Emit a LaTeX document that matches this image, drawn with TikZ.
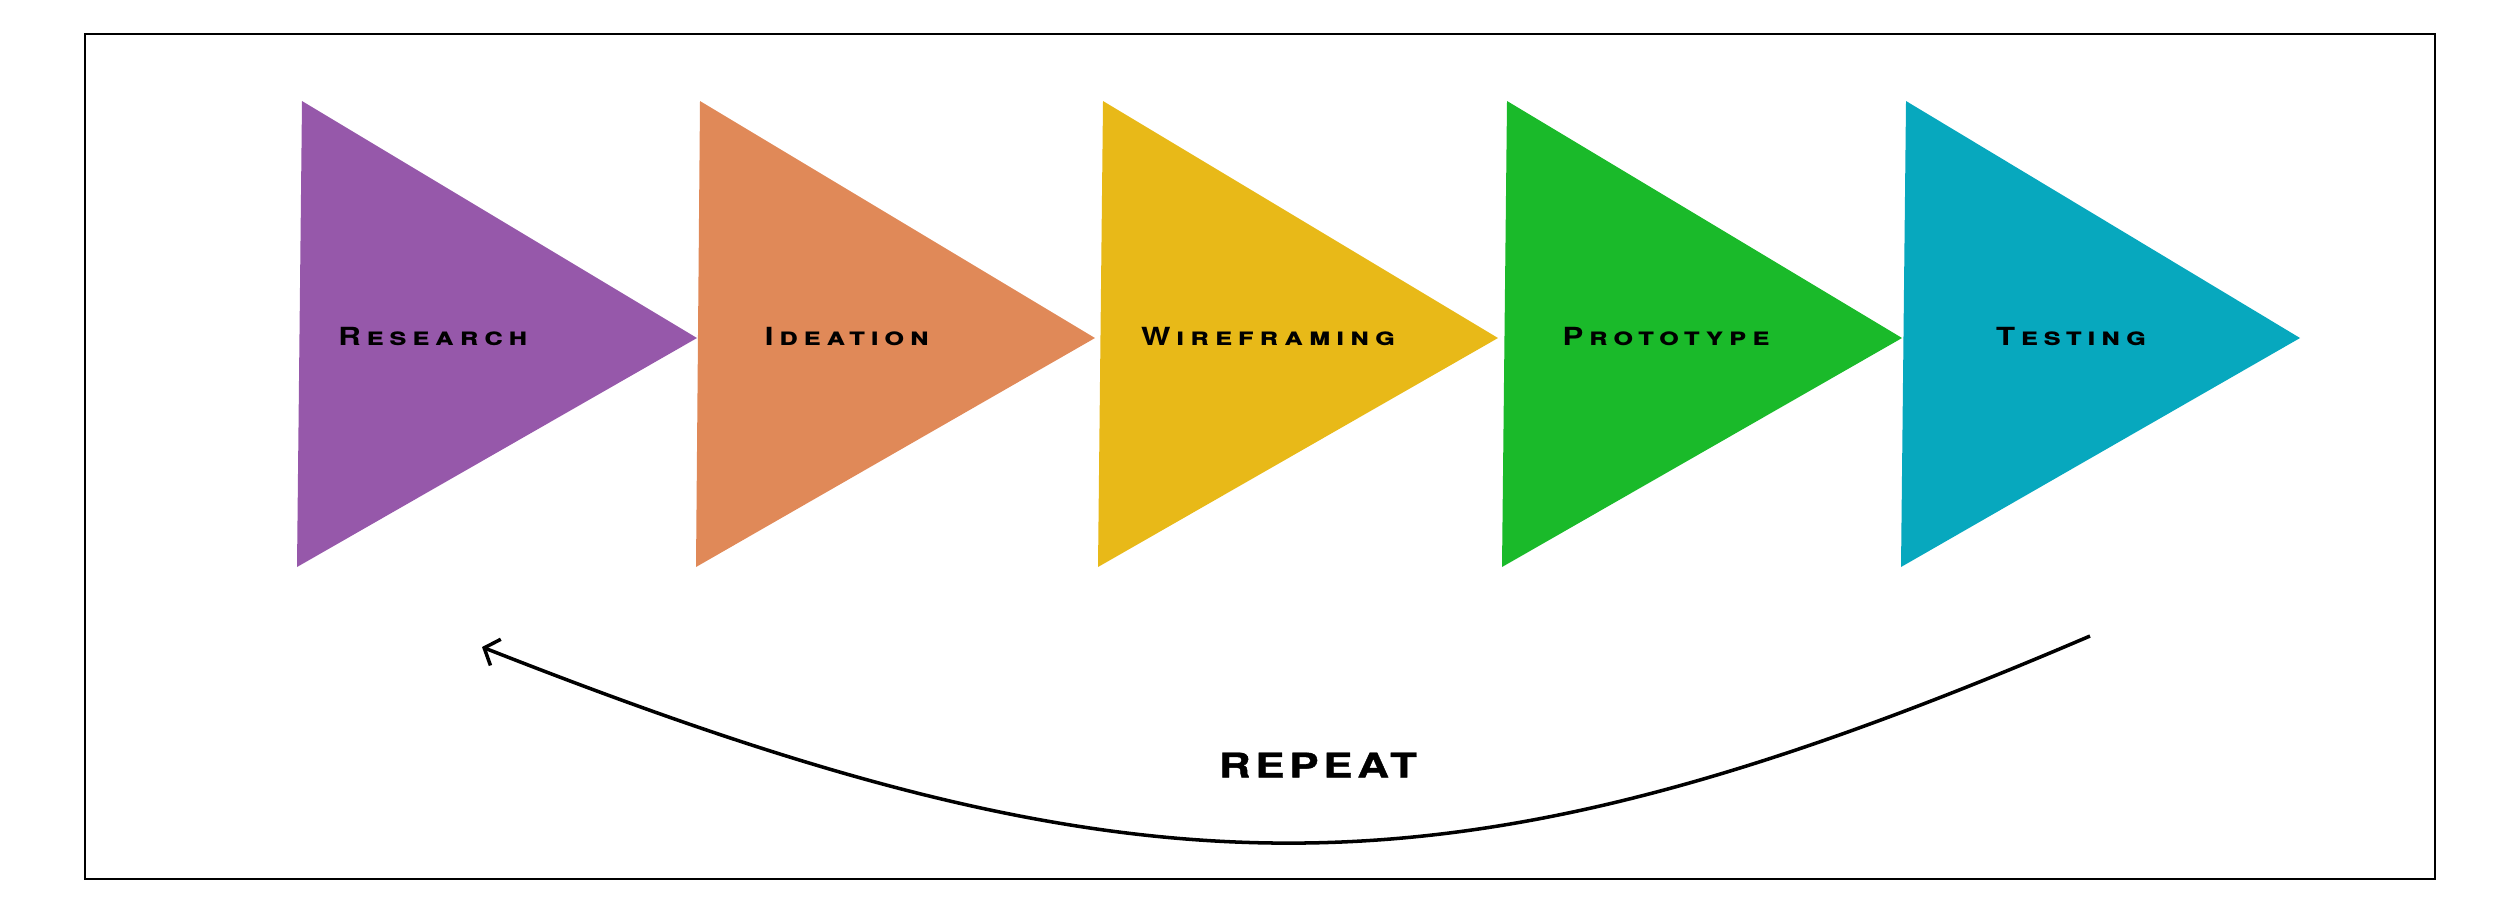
\documentclass[tikz,border=0pt]{standalone}
\usepackage{fontspec}
\setmainfont{TeX Gyre Heros}
\newfontfamily\stagefont[LetterSpace=22, FakeStretch=1.25]{TeX Gyre Heros}
\newfontfamily\repeatfont[LetterSpace=14, FakeStretch=1.3, BoldFeatures={FakeBold=1.2}]{TeX Gyre Heros}
\usetikzlibrary{arrows.meta}
\definecolor{researchc}{RGB}{150,88,170}
\definecolor{ideationc}{RGB}{224,137,88}
\definecolor{wirec}{RGB}{232,185,24}
\definecolor{protoc}{RGB}{26,186,42}
\definecolor{testc}{RGB}{7,168,190}
\tikzset{
  stagelabel/.style={inner sep=0pt, font=\stagefont\fontsize{7.1}{8}\selectfont\bfseries\scshape},
  looplabel/.style={inner sep=0pt, font=\repeatfont\fontsize{9.6}{11}\selectfont\bfseries},
}
\begin{document}
\begin{tikzpicture}[x=0.01cm, y=-0.01cm]
	\useasboundingbox (0,0) rectangle (2500,902);
	% 1. outer frame
	\draw[line width=0.6pt] (85,34) rectangle (2435,879);
	
	% 2. stage triangles
	\fill[researchc] (302,101) -- (697,338) -- (297,567) -- cycle; % Research
	\fill[ideationc] (700,101) -- (1095,338) -- (696,567) -- cycle; % Ideation
	\fill[wirec] (1103,101) -- (1498,338) -- (1098,567) -- cycle; % Wireframing
	\fill[protoc] (1507,101) -- (1902,338) -- (1502,567) -- cycle; % Prototype
	\fill[testc] (1906,101) -- (2300,338) -- (1901,567) -- cycle; % Testing
	
	% 3. stage labels
	\node[stagelabel] (research) at (433,336) {Research};
	\node[stagelabel] (ideation) at (847,336) {Ideation};
	\node[stagelabel] (wireframing) at (1268,336) {Wireframing};
	\node[stagelabel] (prototype) at (1666,336) {Prototype};
	\node[stagelabel] (testing) at (2071,336) {Testing};
	
	% 4. repeat loop back to the first stage
	\coordinate (loopstart) at (2090,636);
	\coordinate (loopend) at (482,647);
	\draw[line width=1pt, -{Straight Barb[length=3.5pt, width=8pt]}]
		(loopstart) .. controls (1450,910) and (1150,910) .. (loopend);
	\node[looplabel] (repeat) at (1318,765) {REPEAT};
\end{tikzpicture}
\end{document}
